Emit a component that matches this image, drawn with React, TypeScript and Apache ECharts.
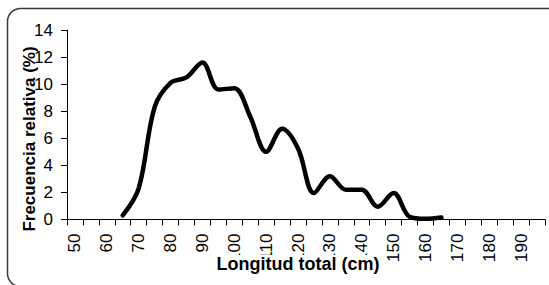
import React, { useEffect, useRef } from "react";
import * as echarts from "echarts";

const categories: string[] = [
  "50", "55", "60", "65", "70", "75", "80", "85", "90", "95",
  "100", "105", "110", "115", "120", "125", "130", "135", "140", "145",
  "150", "155", "160", "165", "170", "175", "180", "185", "190", "195",
];

const frecuencia: (number | null)[] = [
  null, null, null, 0.3, 2.3, 8.3, 10.1, 10.5, 11.6, 9.6,
  9.7, 7.6, 5.0, 6.7, 5.25, 1.95, 3.2, 2.2, 2.2, 0.95,
  1.95, 0.2, 0.05, 0.15, null, null, null, null, null, null,
];

const yTitle = "Frecuencia relativa (%)";
const xTitle = "Longitud total (cm)";

const FONT = '"Liberation Sans", Arial, sans-serif';

export default function App() {
  const ref = useRef<HTMLDivElement>(null);
  useEffect(() => {
    if (!ref.current) return;
    const chart = echarts.init(ref.current, undefined, { renderer: "svg" });
    chart.setOption({
      animation: false,
      backgroundColor: "#ffffff",
      grid: { left: 67, right: 4, top: 30, bottom: 65.5, containLabel: false },
      xAxis: {
        type: "category",
        data: categories,
        boundaryGap: true,
        axisLine: { show: true, lineStyle: { color: "#000", width: 1 } },
        axisTick: { show: true, interval: 0, length: 6, inside: false, lineStyle: { color: "#000" } },
        axisLabel: {
          interval: 1,
          rotate: 90,
          margin: 14,
          color: "#000",
          fontSize: 17,
          fontFamily: FONT,
        },
        splitLine: { show: false },
      },
      yAxis: {
        type: "value",
        min: 0,
        max: 14,
        interval: 2,
        axisLine: { show: true, lineStyle: { color: "#000", width: 1 } },
        axisTick: { show: true, length: 6, lineStyle: { color: "#000" } },
        axisLabel: { color: "#000", fontSize: 17, fontFamily: FONT, margin: 14 },
        splitLine: { show: false },
      },
      series: [
        {
          type: "line",
          data: frecuencia,
          smooth: 0.35,
          showSymbol: false,
          symbol: "none",
          connectNulls: false,
          lineStyle: { color: "#000", width: 4.5, cap: "round", join: "round" },
          z: 3,
        },
      ],
      graphic: [
        {
          type: "rect",
          left: 5,
          top: 6,
          shape: { width: 560, height: 278, r: 13 },
          style: { fill: "none", stroke: "#3a3a3a", lineWidth: 1.5 },
          silent: true,
          z: 0,
        },
        {
          type: "text",
          x: 29,
          y: 139,
          rotation: Math.PI / 2,
          style: {
            text: yTitle,
            fill: "#000",
            font: `bold 17px ${FONT}`,
            align: "center",
            verticalAlign: "middle",
          },
          z: 10,
        },
        {
          type: "text",
          x: 298,
          y: 264,
          style: {
            text: xTitle,
            fill: "#000",
            font: `bold 18px ${FONT}`,
            align: "center",
            verticalAlign: "middle",
            backgroundColor: "#ffffff",
            padding: [0, 1, 0, 1],
          },
          z: 10,
        },
      ],
    });
    return () => chart.dispose();
  }, []);
  return (
    <div
      ref={ref}
      style={{ position: "fixed", left: 0, top: 0, width: 549, height: 285 }}
    />
  );
}
